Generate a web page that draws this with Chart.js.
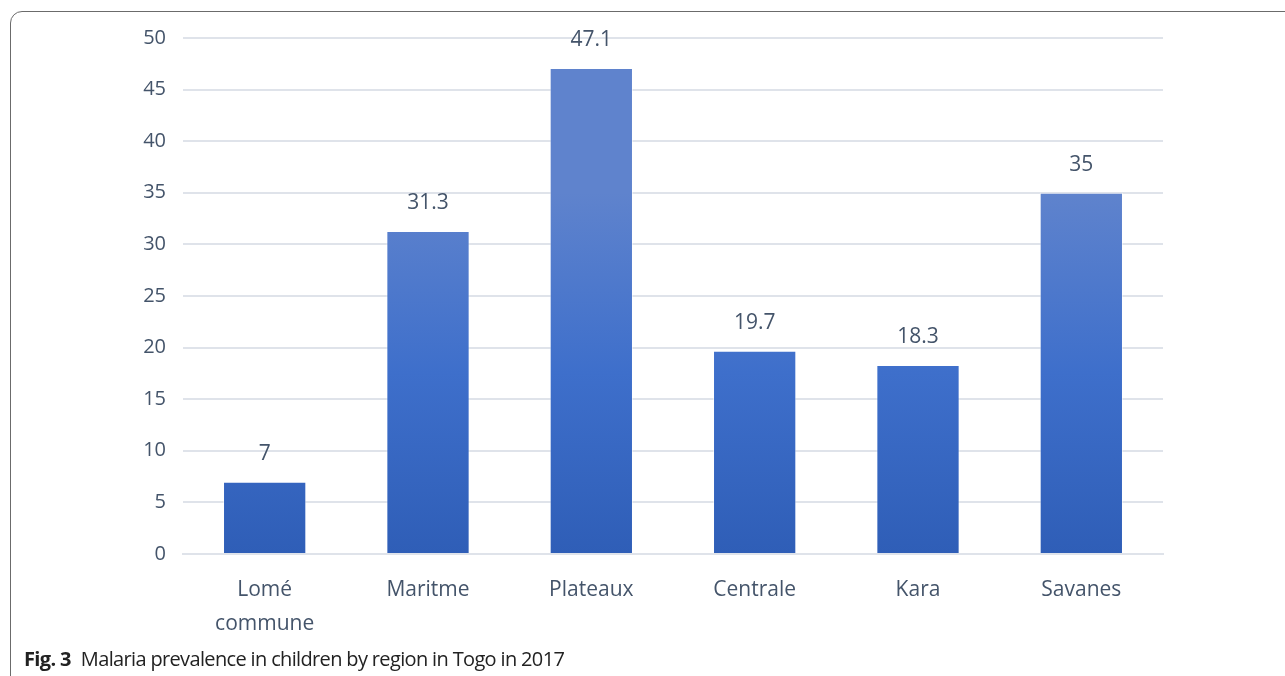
<!DOCTYPE html>
<html>
<head>
<meta charset="utf-8">
<script src="https://cdn.jsdelivr.net/npm/chart.js@4"></script>
<style>
  html, body { margin: 0; padding: 0; background: #fff; }
  #wrap { position: relative; width: 1285px; height: 676px; overflow: hidden; }
  #frame {
    position: absolute; left: 10px; top: 11px; width: 1400px; height: 700px;
    border: 1.5px solid #6b6b6b; border-radius: 12px; box-sizing: border-box;
  }
  #chartBox { position: absolute; left: 0; top: 0; width: 1285px; height: 676px; }
  #caption {
    position: absolute; left: 24px; top: 645px; font-family: "Open Sans", sans-serif;
    font-size: 20px; color: #222; letter-spacing: -0.65px; white-space: nowrap;
  }
  #caption b { margin-right: 10px; }
</style>
</head>
<body>
<div id="wrap">
  <div id="frame"></div>
  <div id="chartBox"><canvas id="barChart"></canvas></div>
  <div id="caption"><b>Fig. 3</b>Malaria prevalence in children by region in Togo in 2017</div>
</div>
<script>
// data
var regions = [['Lomé', 'commune'], 'Maritme', 'Plateaux', 'Centrale', 'Kara', 'Savanes'];
var prevalence = [7, 31.3, 47.1, 19.7, 18.3, 35];
var yTicks = [0, 5, 10, 15, 20, 25, 30, 35, 40, 45, 50];

var textColor = '#44546a';

// gradient per bar, light at top and darker at the base
var barGradient = {
    id: 'barGradient',
    beforeDatasetsDraw: function (chart) {
        var ctx = chart.ctx;
        chart.getDatasetMeta(0).data.forEach(function (bar) {
            var g = ctx.createLinearGradient(0, bar.y, 0, bar.base);
            g.addColorStop(0, '#5f83cd');
            g.addColorStop(0.5, '#3e6fcb');
            g.addColorStop(1, '#2f5eb7');
            bar.options.backgroundColor = g;
        });
    }
};

// value labels above each bar
var valueLabels = {
    id: 'valueLabels',
    afterDatasetsDraw: function (chart) {
        var ctx = chart.ctx;
        ctx.save();
        ctx.font = '21px "Open Sans"';
        ctx.fillStyle = textColor;
        ctx.textAlign = 'center';
        ctx.textBaseline = 'middle';
        chart.getDatasetMeta(0).data.forEach(function (bar, i) {
            ctx.fillText(String(prevalence[i]), bar.x, bar.y - 28);
        });
        ctx.restore();
    }
};

var ctxB = document.getElementById('barChart').getContext('2d');
var myBarChart = new Chart(ctxB, {
    type: 'bar',
    data: {
        labels: regions,
        datasets: [{
            label: 'Malaria prevalence',
            data: prevalence,
            backgroundColor: '#3e6fcb',
            borderColor: 'rgba(255,255,255,0.5)',
            borderWidth: 1,
            barPercentage: 0.51,
            categoryPercentage: 1.0
        }]
    },
    options: {
        responsive: true,
        maintainAspectRatio: false,
        animation: false,
        layout: { padding: { top: 38, right: 122, bottom: 16, left: 0 } },
        plugins: {
            legend: { display: false },
            tooltip: { enabled: false }
        },
        scales: {
            x: {
                grid: { display: false, drawTicks: false },
                border: { display: true, color: '#dfe3ea', width: 2 },
                ticks: {
                    color: textColor,
                    font: { family: 'Open Sans', size: 21, lineHeight: 1.62 },
                    padding: 19,
                    maxRotation: 0
                }
            },
            y: {
                min: 0,
                max: 50,
                afterBuildTicks: function (axis) {
                    axis.ticks = yTicks.map(function (v) { return { value: v }; });
                },
                grid: { color: '#dfe3ea', lineWidth: 2, drawTicks: false },
                border: { display: false },
                ticks: {
                    color: textColor,
                    font: { family: 'Open Sans', size: 20 },
                    padding: 17
                },
                afterFit: function (axis) { axis.width = 183; }
            }
        }
    },
    plugins: [barGradient, valueLabels]
});
</script>
</body>
</html>
